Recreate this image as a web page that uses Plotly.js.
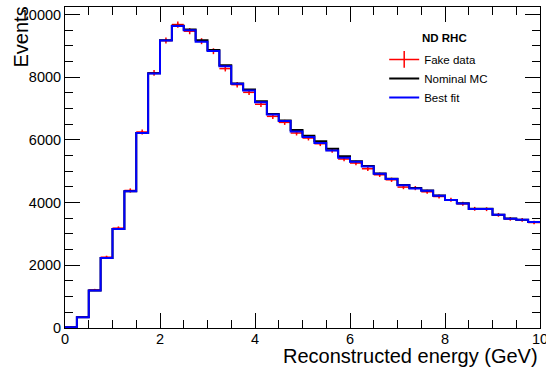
<!DOCTYPE html>
<html>
<head>
<meta charset="utf-8">
<script src="https://cdn.plot.ly/plotly-3.0.1.min.js"></script>
<style>html,body{margin:0;padding:0;background:#fff;}#chart{width:546px;height:367px;}</style>
</head>
<body>
<div id="chart"></div>
<script>
// Bin low edges (GeV), 0.25 GeV bins
const binLow = [0,0.25,0.5,0.75,1,1.25,1.5,1.75,2,2.25,2.5,2.75,3,3.25,3.5,3.75,4,4.25,4.5,4.75,
                5,5.25,5.5,5.75,6,6.25,6.5,6.75,7,7.25,7.5,7.75,8,8.25,8.5,8.75,9,9.25,9.5,9.75];
const binWidth = 0.25;
const xMax = 10;

// Fake data (red points)
const fakeData = [20,350,1214,2258,3185,4387,6252,8137,9170,9680,9468,9150,8830,8275,7763,7518,7137,6752,6560,6220,
                  6060,5879,5665,5390,5262,5080,4888,4728,4495,4463,4345,4195,4090,3962,3802,3790,3610,3482,3450,3365];
// Nominal MC (black)
const nominalMC = [20,345,1195,2230,3160,4360,6220,8130,9180,9640,9520,9180,8870,8380,7800,7610,7230,6830,6620,6315,
                   6135,5955,5720,5475,5320,5165,4930,4760,4560,4470,4390,4225,4085,3980,3805,3805,3615,3490,3455,3385];
// Best fit (blue)
const bestFit = [20,345,1195,2230,3160,4360,6220,8115,9170,9630,9500,9130,8840,8350,7790,7580,7200,6810,6600,6265,
                 6095,5900,5665,5430,5305,5155,4920,4750,4550,4450,4380,4220,4080,3975,3800,3800,3610,3485,3450,3380];

const legendTitle = "ND RHC";
const xTitle = "Reconstructed energy (GeV)";
const yTitle = "Events";

const FONT = "Liberation Sans, Arial, Helvetica, sans-serif";

function stepX(){ return binLow.concat([xMax]); }
function stepY(v){ return v.concat([v[v.length-1]]); }
const centers = binLow.map(e => e + binWidth/2);

const traces = [
  { // fake data points with errors
    type:'scatter', mode:'markers', x:centers, y:fakeData, showlegend:false,
    marker:{color:'#ff0000', size:2},
    error_x:{type:'constant', value:binWidth/2, width:0, thickness:1.5, color:'#ff0000'},
    error_y:{type:'sqrt', width:0, thickness:1.5, color:'#ff0000'},
    hoverinfo:'skip'
  },
  { // legend entry for fake data
    type:'scatter', mode:'lines+markers', x:[null], y:[null], name:'Fake data',
    line:{color:'#ff0000', width:1.5},
    marker:{symbol:'line-ns', size:12, color:'#ff0000', line:{color:'#ff0000', width:1.5}}
  },
  {
    type:'scatter', mode:'lines', x:stepX(), y:stepY(nominalMC), name:'Nominal MC',
    line:{shape:'hv', color:'#000000', width:2}
  },
  {
    type:'scatter', mode:'lines', x:stepX(), y:stepY(bestFit), name:'Best fit',
    line:{shape:'hv', color:'#0000ff', width:2}
  }
];

const layout = {
  width:546, height:367,
  margin:{l:65, r:6, t:7, b:39},
  paper_bgcolor:'#ffffff', plot_bgcolor:'#ffffff',
  font:{family:FONT, color:'#000000', size:14.5},
  showlegend:true,
  legend:{x:0.672, y:0.882, xanchor:'left', yanchor:'top', bgcolor:'rgba(0,0,0,0)',
          font:{family:FONT, size:11.5, color:'#000'}, tracegroupgap:0},
  xaxis:{
    range:[0, xMax], showgrid:false, zeroline:false,
    showline:true, linecolor:'#000', linewidth:1, mirror:'allticks',
    ticks:'inside', ticklen:15, tickcolor:'#000', tickwidth:1,
    dtick:2, tick0:0, tickfont:{size:14.5, family:FONT},
    ticklabeloverflow:'allow', ticklabelstandoff:-2,
    minor:{dtick:0.5, ticks:'inside', ticklen:8, tickcolor:'#000', tickwidth:1, showgrid:false}
  },
  yaxis:{
    range:[0, 10240], showgrid:false, zeroline:false,
    showline:true, linecolor:'#000', linewidth:1, mirror:'allticks',
    ticks:'inside', ticklen:15, tickcolor:'#000', tickwidth:1,
    dtick:2000, tick0:0, tickformat:'d', tickfont:{size:14.5, family:FONT},
    ticklabeloverflow:'allow',
    minor:{dtick:500, ticks:'inside', ticklen:8, tickcolor:'#000', tickwidth:1, showgrid:false}
  },
  annotations:[
    {text:'<b>'+legendTitle+'</b>', xref:'paper', yref:'paper', x:0.748, y:(328-38)/321,
     xanchor:'left', yanchor:'middle', showarrow:false, font:{family:FONT, size:11.5}},
    {text:xTitle, xref:'paper', yref:'paper', x:1, y:-(356-328)/321, xanchor:'right', yanchor:'middle',
     showarrow:false, font:{family:FONT, size:20}},
    {text:yTitle, xref:'paper', yref:'paper', x:-(65-20)/475, y:1, xanchor:'center', yanchor:'top', yshift:2,
     textangle:-90, showarrow:false, font:{family:FONT, size:20}}
  ]
};

Plotly.newPlot('chart', traces, layout, {displayModeBar:false, staticPlot:true});
</script>
</body>
</html>
